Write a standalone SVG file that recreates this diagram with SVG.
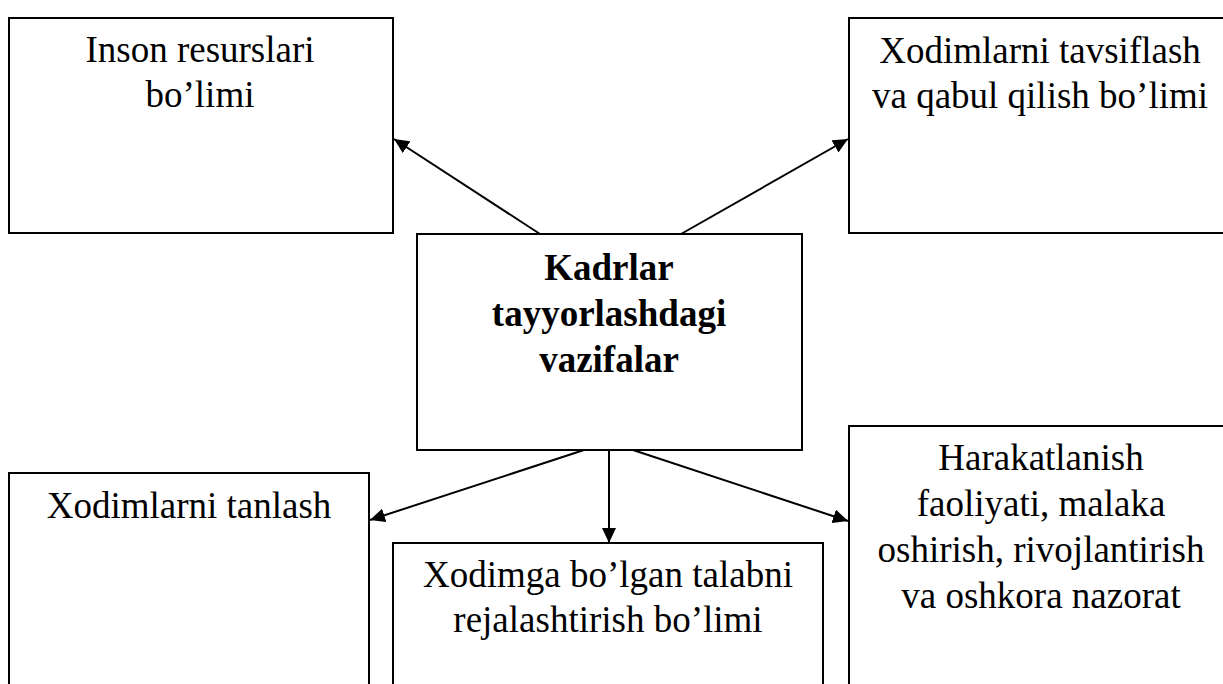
<svg xmlns="http://www.w3.org/2000/svg" width="1223" height="684" viewBox="0 0 1223 684">
<style>
.box{fill:#fff;stroke:#000;stroke-width:2}
.t{font-family:"Liberation Serif","Times New Roman",serif;font-size:37px;fill:#000;text-anchor:middle}
.b{font-weight:bold}
.c{stroke:#000;stroke-width:2;fill:none;marker-end:url(#ah)}
</style>
<defs>
<marker id="ah" markerUnits="userSpaceOnUse" markerWidth="16" markerHeight="14" refX="15" refY="7" orient="auto">
<path d="M0,0 L15,7 L0,14 Z" fill="#000"/>
</marker>
</defs>
<rect width="1223" height="684" fill="#fff"/>
<g id="n1">
<rect class="box" x="9" y="18" width="384" height="215"/>
<text class="t" x="200" y="62">Inson resurslari</text>
<text class="t" x="200" y="107">bo’limi</text>
</g>
<g id="n2">
<rect class="box" x="849" y="18" width="400" height="215"/>
<text class="t" x="1040" y="63">Xodimlarni tavsiflash</text>
<text class="t" x="1040" y="108">va qabul qilish bo’limi</text>
</g>
<g id="n3">
<rect class="box" x="417" y="234" width="385" height="216"/>
<text class="t b" x="609" y="280">Kadrlar</text>
<text class="t b" x="609" y="326">tayyorlashdagi</text>
<text class="t b" x="609" y="372">vazifalar</text>
</g>
<g id="n4">
<rect class="box" x="9" y="473" width="360" height="230"/>
<text class="t" x="189" y="518">Xodimlarni tanlash</text>
</g>
<g id="n5">
<rect class="box" x="393" y="543" width="430" height="160"/>
<text class="t" x="608" y="587">Xodimga bo’lgan talabni</text>
<text class="t" x="608" y="632">rejalashtirish bo’limi</text>
</g>
<g id="n6">
<rect class="box" x="849" y="426" width="400" height="280"/>
<text class="t" x="1041" y="470">Harakatlanish</text>
<text class="t" x="1041" y="516">faoliyati, malaka</text>
<text class="t" x="1041" y="562">oshirish, rivojlantirish</text>
<text class="t" x="1041" y="608">va oshkora nazorat</text>
</g>
<g id="connectors">
<line class="c" x1="540" y1="234" x2="394" y2="139"/>
<line class="c" x1="681" y1="234" x2="848" y2="139"/>
<line class="c" x1="584" y1="450" x2="370" y2="520"/>
<line class="c" x1="609" y1="450" x2="609" y2="543"/>
<line class="c" x1="633" y1="450" x2="848" y2="521"/>
</g>
</svg>
